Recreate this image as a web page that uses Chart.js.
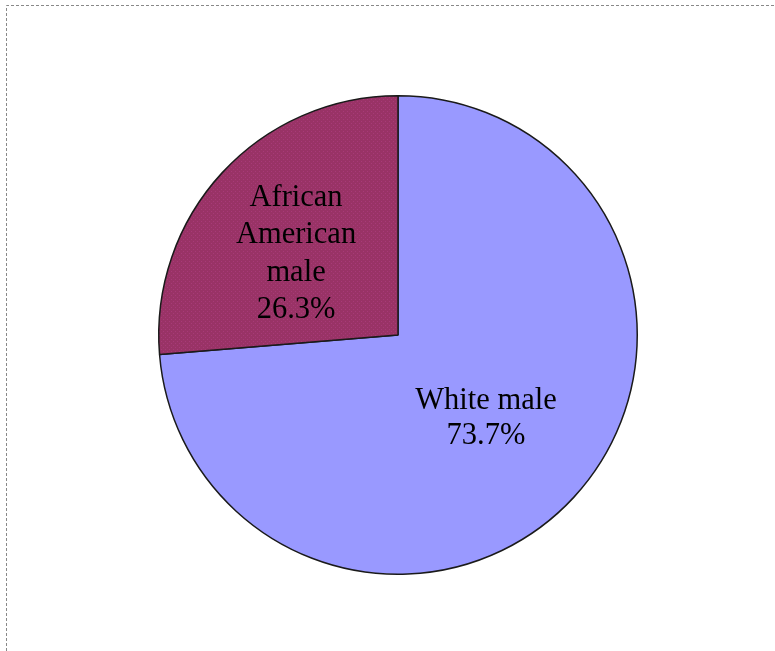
<!DOCTYPE html>
<html>
<head>
<meta charset="utf-8">
<script src="https://cdn.jsdelivr.net/npm/chart.js@4"></script>
<style>
  html, body { margin: 0; padding: 0; background: #ffffff; }
  #wrap { position: relative; width: 775px; height: 651px; }
</style>
</head>
<body>
<div id="wrap"><canvas id="chart" width="775" height="651"></canvas></div>
<script>
// Share of the group by race
const categories = ['White male', 'African American male'];
const shares = [73.7, 26.3];
// Label lines shown inside each slice
const labelLines = [['White male'], ['African', 'American', 'male']];

// Fine dotted fill for the maroon slice
function dottedFill(base, dot) {
  const c = document.createElement('canvas');
  c.width = 4; c.height = 4;
  const g = c.getContext('2d');
  g.fillStyle = base;
  g.fillRect(0, 0, 4, 4);
  g.fillStyle = dot;
  g.fillRect(1, 1, 1, 1);
  g.fillRect(3, 3, 1, 1);
  return g.createPattern(c, 'repeat');
}
const ctx = document.getElementById('chart').getContext('2d');
const maroon = dottedFill('#993366', '#a83a78');

// Dotted frame along the top and left edges
const framePlugin = {
  id: 'frame',
  beforeDraw(chart) {
    const g = chart.ctx;
    g.save();
    g.strokeStyle = '#888888';
    g.lineWidth = 1;
    g.setLineDash([3, 2]);
    g.beginPath();
    g.moveTo(6.5, chart.height);
    g.lineTo(6.5, 5.5);
    g.lineTo(chart.width, 5.5);
    g.stroke();
    g.restore();
  }
};

// Category name and percentage drawn inside each slice
const sliceLabels = {
  id: 'sliceLabels',
  afterDatasetsDraw(chart, args, opts) {
    const g = chart.ctx;
    const meta = chart.getDatasetMeta(0);
    g.save();
    g.fillStyle = '#000000';
    g.font = opts.font;
    g.textAlign = 'center';
    g.textBaseline = 'middle';
    meta.data.forEach((arc, i) => {
      const p = arc.getCenterPoint();
      const off = opts.offsets[i] || [0, 0];
      const lines = labelLines[i].concat([shares[i].toFixed(1) + '%']);
      const lh = opts.lineHeights[i];
      const x = p.x + off[0];
      const y0 = p.y + off[1] - (lines.length - 1) * lh / 2;
      lines.forEach((t, k) => g.fillText(t, x, y0 + k * lh));
    });
    g.restore();
  }
};

new Chart(ctx, {
  type: 'pie',
  data: {
    labels: categories,
    datasets: [{
      data: shares,
      backgroundColor: ['#9999ff', maroon],
      borderColor: '#1a1a1a',
      borderWidth: 1.5
    }]
  },
  options: {
    responsive: false,
    animation: false,
    rotation: 0,
    layout: { padding: { left: 158, right: 137, top: 95, bottom: 76 } },
    plugins: {
      legend: { display: false },
      tooltip: { enabled: false },
      sliceLabels: {
        font: '30.5px "Liberation Serif", "Times New Roman", serif',
        lineHeights: [35, 37.5],
        offsets: [[0, 2], [-14, 0]]
      }
    }
  },
  plugins: [framePlugin, sliceLabels]
});
</script>
</body>
</html>
